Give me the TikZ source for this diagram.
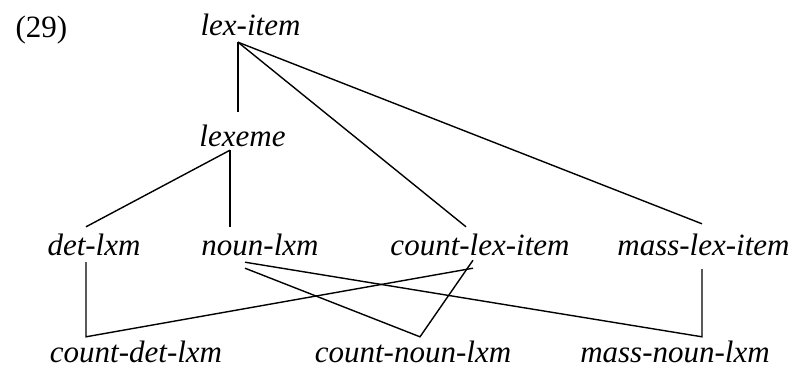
\documentclass[tikz,border=0pt]{standalone}
\usepackage{fontspec}
\setmainfont{Liberation Serif}

\begin{document}
\begin{tikzpicture}[x=1bp,y=-1bp]

\tikzstyle{vertex}=[anchor=base, inner xsep=0pt, inner ysep=7bp,
    text height=21bp, text depth=0pt,
    font=\fontsize{31bp}{37bp}\selectfont\itshape]
\tikzstyle{leaf}=[vertex, inner ysep=2bp]
\tikzstyle{link}=[line width=1.4bp]

\useasboundingbox (0,0) rectangle (795,369);

  \node[anchor=base west, font=\fontsize{31bp}{37bp}\selectfont] (exNum) at (12,37) {(29)};

  \node[vertex] (lexItem) at (250.5,35) {lex-item};
  \node[vertex] (lexeme) at (242.5,146) {lexeme};

  \node[vertex] (detLxm) at (94,255) {det-lxm};
  \node[vertex] (nounLxm) at (260,255) {noun-lxm};
  \node[vertex] (countLexItem) at (480,255) {count-lex-item};
  \node[vertex] (massLexItem) at (703.5,255) {mass-lex-item};

  \node[leaf] (countDetLxm) at (136,362) {count-det-lxm};
  \node[leaf] (countNounLxm) at (413,362) {count-noun-lxm};
  \node[leaf] (massNounLxm) at (675,362) {mass-noun-lxm};

% lex-item
\coordinate (lexItemFoot) at ([xshift=-12.5bp]lexItem.south);
\coordinate (lexemeHead) at ([yshift=6bp]lexeme.north);
\draw[link] (lexItemFoot) -- (lexItemFoot |- lexemeHead);
\draw[link] (lexItemFoot) -- ([xshift=-14bp]countLexItem.north);
\draw[link] (lexItemFoot) -- ([xshift=-1.5bp,yshift=3bp]massLexItem.north);

% lexeme
\coordinate (lexemeFoot) at ([xshift=-12.5bp,yshift=3bp]lexeme.south);
\draw[link] (lexemeFoot) -- ([xshift=-8bp]detLxm.north);
\draw[link] (lexemeFoot) -- (lexemeFoot |- nounLxm.north);

% count-det-lxm
\coordinate (detLxmFoot) at ([xshift=-8bp]detLxm.south);
\coordinate (countDetHead) at ([xshift=-50bp,yshift=2bp]countDetLxm.north);
\draw[link] (detLxmFoot) -- (detLxmFoot |- countDetHead)
    -- ([xshift=-7bp,yshift=-6bp]countLexItem.south);

% count-noun-lxm
\draw[link] ([xshift=-15bp,yshift=-6bp]nounLxm.south) -- ([xshift=7bp,yshift=2bp]countNounLxm.north)
    -- ([xshift=-7bp,yshift=2bp]countLexItem.south);

% mass-noun-lxm
\coordinate (massLexFoot) at ([xshift=-1.5bp,yshift=-7bp]massLexItem.south);
\coordinate (massNounHead) at ([yshift=2bp]massNounLxm.north);
\draw[link] ([xshift=-15bp]nounLxm.south) -- (massLexFoot |- massNounHead) -- (massLexFoot);

\end{tikzpicture}
\end{document}
